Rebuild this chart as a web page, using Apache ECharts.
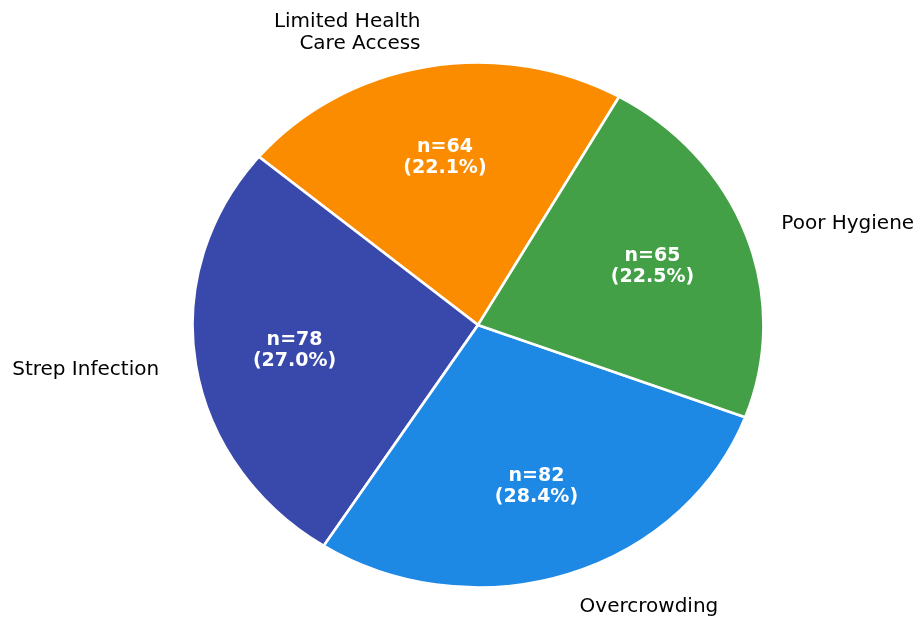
<!DOCTYPE html>
<html>
<head>
<meta charset="utf-8">
<title>Causes</title>
<script src="https://cdn.jsdelivr.net/npm/echarts@6/dist/echarts.min.js"></script>
<style>
  html, body { margin: 0; padding: 0; background: #ffffff; }
  #wrap { position: relative; width: 919px; height: 618px; overflow: hidden; }
  #pie, #labels { position: absolute; left: 0; top: 0; width: 919px; height: 618px; }
  /* the pie is drawn on a slightly wider-than-tall axis box */
  #pie { transform-origin: 478px 325px; }
</style>
</head>
<body>
<div id="wrap">
  <div id="pie"></div>
  <div id="labels"></div>
</div>
<script>
// ---- data ----
const categories = ['Limited Health\nCare Access', 'Strep Infection', 'Overcrowding', 'Poor Hygiene'];
const counts = [64, 78, 82, 65];
const colors = ['#FB8C00', '#3949AB', '#1E88E5', '#43A047'];

// ---- layout ----
const START_ANGLE = 60.4;     // first wedge starts here, wedges run counter-clockwise
const CX = 478, CY = 325;     // pie centre (px)
const RX = 285.5, RY = 262.5; // horizontal / vertical radius (px)
const PCT_DIST = 0.65;        // inner value labels, fraction of radius
const NAME_DIST = 1.13;       // outer category labels, fraction of radius
const FONT = 'DejaVu Sans';

document.getElementById('pie').style.transform = 'scaleX(' + (RX / RY) + ')';

const total = counts.reduce((a, b) => a + b, 0);

// slices
const pieChart = echarts.init(document.getElementById('pie'), null, { renderer: 'svg' });
pieChart.setOption({
  animation: false,
  series: [{
    type: 'pie',
    center: [CX, CY],
    radius: RY,
    startAngle: START_ANGLE,
    clockwise: false,
    silent: true,
    label: { show: false },
    labelLine: { show: false },
    itemStyle: { borderColor: '#ffffff', borderWidth: 2.5 },
    data: categories.map((c, i) => ({ name: c, value: counts[i], itemStyle: { color: colors[i] } }))
  }]
});

// labels, placed on an x/y axis pair scaled to the pie's two radii
const XMAX = 1.5, YMAX = 1.115;
const innerData = [], outerData = [];
let cum = 0;
counts.forEach((v, i) => {
  const mid = (START_ANGLE + (cum + v / 2) / total * 360) * Math.PI / 180;
  cum += v;
  const c = Math.cos(mid), s = Math.sin(mid);
  innerData.push({
    value: [PCT_DIST * c, PCT_DIST * s],
    label: { formatter: 'n=' + v + '\n(' + (v / total * 100).toFixed(1) + '%)' }
  });
  outerData.push({
    value: [NAME_DIST * c, NAME_DIST * s],
    label: { formatter: categories[i], align: c < 0 ? 'right' : 'left' }
  });
});

const labelChart = echarts.init(document.getElementById('labels'));
labelChart.setOption({
  animation: false,
  backgroundColor: 'transparent',
  grid: { left: CX - XMAX * RX, width: 2 * XMAX * RX, top: CY - YMAX * RY, height: 2 * YMAX * RY, containLabel: false },
  xAxis: { type: 'value', min: -XMAX, max: XMAX, show: false },
  yAxis: { type: 'value', min: -YMAX, max: YMAX, show: false },
  series: [
    {
      type: 'scatter', silent: true, symbolSize: 0, data: innerData, clip: false,
      itemStyle: { opacity: 1 },
      label: {
        show: true, position: 'inside', align: 'center', verticalAlign: 'middle',
        color: '#ffffff', fontFamily: FONT, fontWeight: 'bold', fontSize: 19, lineHeight: 21
      }
    },
    {
      type: 'scatter', silent: true, symbolSize: 0, data: outerData, clip: false,
      itemStyle: { opacity: 1 },
      label: {
        show: true, position: 'inside', verticalAlign: 'middle',
        color: '#000000', fontFamily: FONT, fontSize: 20, lineHeight: 22
      }
    }
  ]
});
</script>
</body>
</html>
